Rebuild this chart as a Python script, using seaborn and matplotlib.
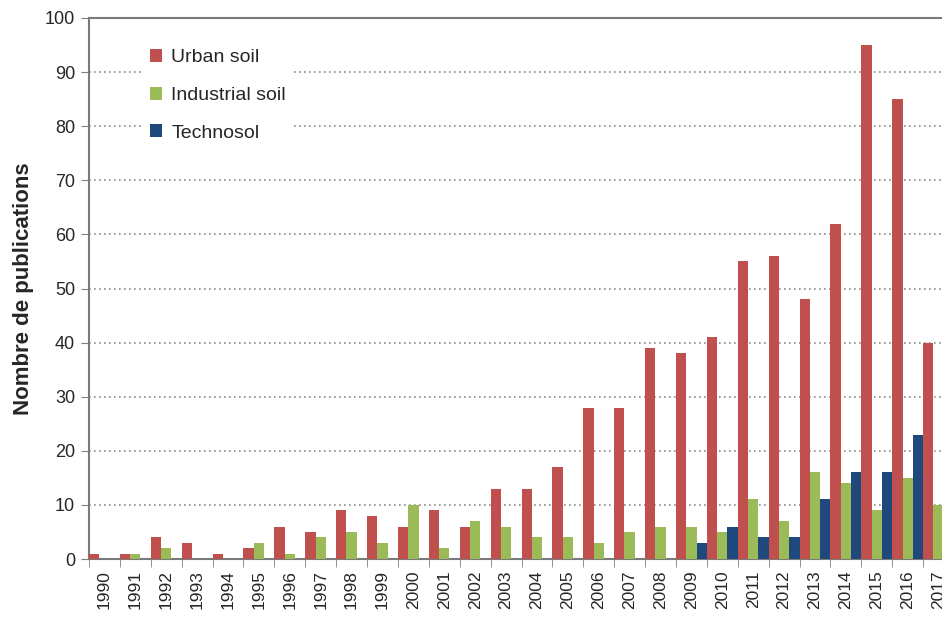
import numpy as np
import pandas as pd
import seaborn as sns
import matplotlib.pyplot as plt
from matplotlib.ticker import FixedLocator

# Values
years = [str(y) for y in range(1990, 2018)]
urban_soil = [1, 1, 4, 3, 1, 2, 6, 5, 9, 8, 6, 9, 6, 13, 13, 17, 28, 28,
              39, 38, 41, 55, 56, 48, 62, 95, 85, 40]
industrial_soil = [0, 1, 2, 0, 0, 3, 1, 4, 5, 3, 10, 2, 7, 6, 4, 4, 3, 5,
                   6, 6, 5, 11, 7, 16, 14, 9, 15, 10]
technosol = [0, 0, 0, 0, 0, 0, 0, 0, 0, 0, 0, 0, 0, 0, 0, 0, 0, 0,
             0, 3, 6, 4, 4, 11, 16, 16, 23, 14]
series_names = ["Urban soil", "Industrial soil", "Technosol"]
colors = ["#C0504D", "#9BBB59", "#1F497D"]

df = pd.DataFrame({
    "year": years * 3,
    "count": urban_soil + industrial_soil + technosol,
    "series": [s for s in series_names for _ in years],
})

sns.set_style("white")
plt.rcParams["font.family"] = ["Liberation Sans", "DejaVu Sans"]

fig = plt.figure(figsize=(9.42, 6.17), dpi=100)
# the original chart is cropped on the right, so the axes run past the figure edge
ax = fig.add_axes([89 / 942, 1 - 559 / 617, 865 / 942, (559 - 18) / 617])

sns.barplot(data=df, x="year", y="count", hue="series", hue_order=series_names,
            palette=colors, width=1.0, saturation=1, linewidth=0, ax=ax, zorder=3)

ax.set_ylim(0, 100)
ax.set_xlim(-0.5, 27.5)
ax.set_yticks(range(0, 101, 10))
ax.yaxis.grid(True, linestyle=(0, (1, 2)), color="#8c8c8c", linewidth=1.2, zorder=0)
ax.set_axisbelow(True)

ax.tick_params(axis="y", labelsize=13, length=6, color="#808080", direction="out", left=True, pad=4)
ax.tick_params(axis="x", which="major", labelsize=12.5, length=0, rotation=90, pad=8)
ax.xaxis.set_minor_locator(FixedLocator(np.arange(-0.5, 28, 1)))
ax.tick_params(axis="x", which="minor", length=6, color="#808080", bottom=True, direction="out")

for side in ["left", "bottom", "top"]:
    ax.spines[side].set_color("#7a7a7a")
    ax.spines[side].set_linewidth(1.5)
ax.spines["right"].set_visible(False)

ax.set_xlabel("")
ax.set_ylabel("Nombre de publications", fontsize=16, fontweight="bold", labelpad=8)

leg = ax.legend(loc="upper left", bbox_to_anchor=(0.05, 0.975), fontsize=14,
                frameon=True, facecolor="white", edgecolor="none", framealpha=1,
                handlelength=0.65, handleheight=0.65, handletextpad=0.45,
                labelspacing=1.05, borderpad=0.4, fancybox=False)
leg.set_zorder(5)

fig.savefig("out.png", dpi=100)
